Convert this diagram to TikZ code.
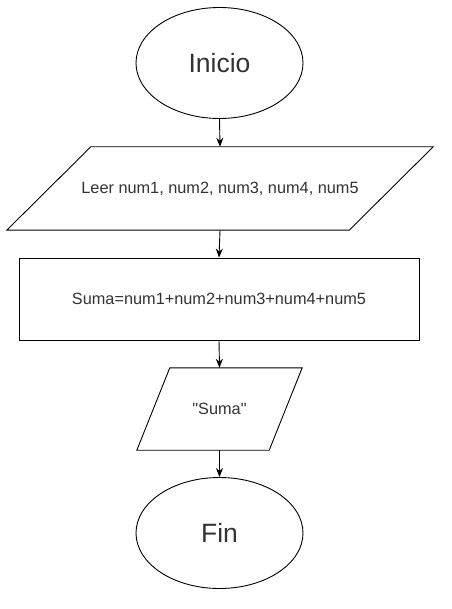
\documentclass[tikz,border=0pt]{standalone}
\usepackage{fontspec}
\setmainfont{Liberation Sans}
\usetikzlibrary{shapes.geometric,arrows.meta}
\definecolor{txt}{HTML}{333333}
\begin{document}
\begin{tikzpicture}[x=1pt,y=-1pt,
  shp/.style={draw=black,line width=0.9pt,inner sep=0pt,text=txt,fill=white},
  term/.style={shp,ellipse,minimum width=167pt,minimum height=111pt,font=\fontsize{26.5}{30}\selectfont},
  io/.style={inner sep=0pt,text=txt,rectangle,font=\fontsize{16.3}{19}\selectfont},
  outline/.style={draw=black,line width=0.9pt,line join=miter},
  proc/.style={shp,rectangle,minimum width=400pt,minimum height=82pt,font=\fontsize{16.3}{19}\selectfont},
  flow/.style={draw=black,line width=0.9pt,-{Stealth[length=9pt,width=7pt]}}]
\useasboundingbox (0,0) rectangle (451,609);
\node[term] (inicio) at (219.5,63) {Inicio};
\node[io,minimum width=426pt,minimum height=83pt] (leer) at (220,188.5) {Leer num1, num2, num3, num4, num5};
\draw[outline] ([xshift=84pt]leer.north west) -- (leer.north east) -- ([xshift=-84pt]leer.south east) -- (leer.south west) -- cycle;
\node[proc] (suma) at (219,299) {Suma=num1+num2+num3+num4+num5};
\node[io,minimum width=165pt,minimum height=82pt] (out) at (219.5,409) {\textquotedbl Suma\textquotedbl};
\draw[outline] ([xshift=33pt]out.north west) -- (out.north east) -- ([xshift=-33pt]out.south east) -- (out.south west) -- cycle;
\node[term] (fin) at (219.5,533) {Fin};
\draw[flow] (inicio.south) -- (leer.north);
\draw[flow] (leer.south) -- (suma.north);
\draw[flow] (suma.south) -- (out.north);
\draw[flow] (out.south) -- (fin.north);
\end{tikzpicture}
\end{document}
